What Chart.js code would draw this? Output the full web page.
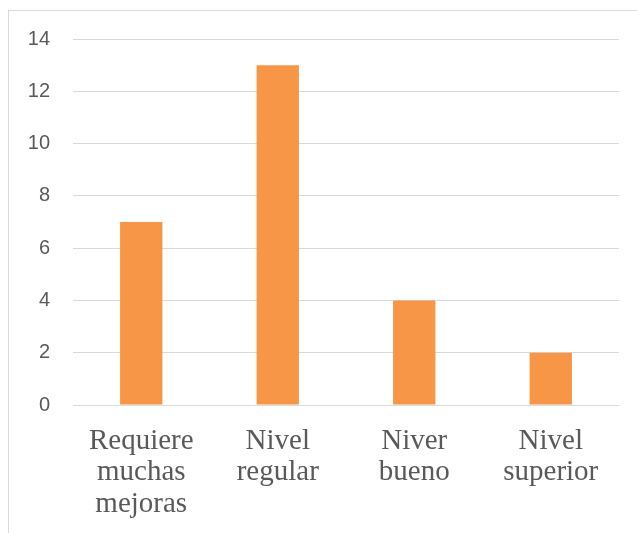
<!DOCTYPE html>
<html>
<head>
<meta charset="utf-8">
<script src="https://cdn.jsdelivr.net/npm/chart.js@4"></script>
<style>
    body { margin: 0; background: #fff; }
    #frame {
        position: absolute; left: 8px; top: 10px; width: 629px; height: 523px;
        border-left: 1px solid #d9d9d9; border-top: 1px solid #d9d9d9;
    }
    #myChart { position: absolute; left: 0; top: 0; }
</style>
</head>
<body>
<div id="frame"></div>
<canvas id="myChart" width="637" height="533"></canvas>
<script>
const ctx = document.getElementById('myChart');

// chart data
const categories = [
    ['Requiere', 'muchas', 'mejoras'],
    ['Nivel', 'regular'],
    ['Niver', 'bueno'],
    ['Nivel', 'superior'],
];
const values = [7, 13, 4, 2];
const yTicks = [0, 2, 4, 6, 8, 10, 12, 14];

new Chart(ctx, {
    type: 'bar',
    data: {
        labels: categories,
        datasets: [
            {
                data: values,
                backgroundColor: '#f79646',
                borderWidth: 0,
                categoryPercentage: 1,
                barPercentage: 0.31,
            },
        ],
    },
    options: {
        responsive: false,
        animation: false,
        layout: {
            padding: { top: 39, right: 18, bottom: 0, left: 0 },
        },
        plugins: {
            legend: { display: false },
            tooltip: { enabled: false },
        },
        scales: {
            y: {
                min: 0,
                max: 14,
                afterFit: (scale) => { scale.width = 73; },
                afterBuildTicks: (scale) => {
                    scale.ticks = yTicks.map((v) => ({ value: v }));
                },
                border: { display: false },
                grid: {
                    color: '#d9d9d9',
                    lineWidth: 1,
                    drawTicks: false,
                },
                ticks: {
                    padding: 23,
                    color: '#595959',
                    font: { family: '"Liberation Sans", sans-serif', size: 20 },
                },
            },
            x: {
                afterFit: (scale) => { scale.height = 128; },
                border: { display: false },
                grid: { display: false },
                ticks: {
                    padding: 12,
                    color: '#595959',
                    maxRotation: 0,
                    autoSkip: false,
                    font: { family: '"Liberation Serif", serif', size: 29, lineHeight: 1.1 },
                },
            },
        },
    },
});
</script>
</body>
</html>
